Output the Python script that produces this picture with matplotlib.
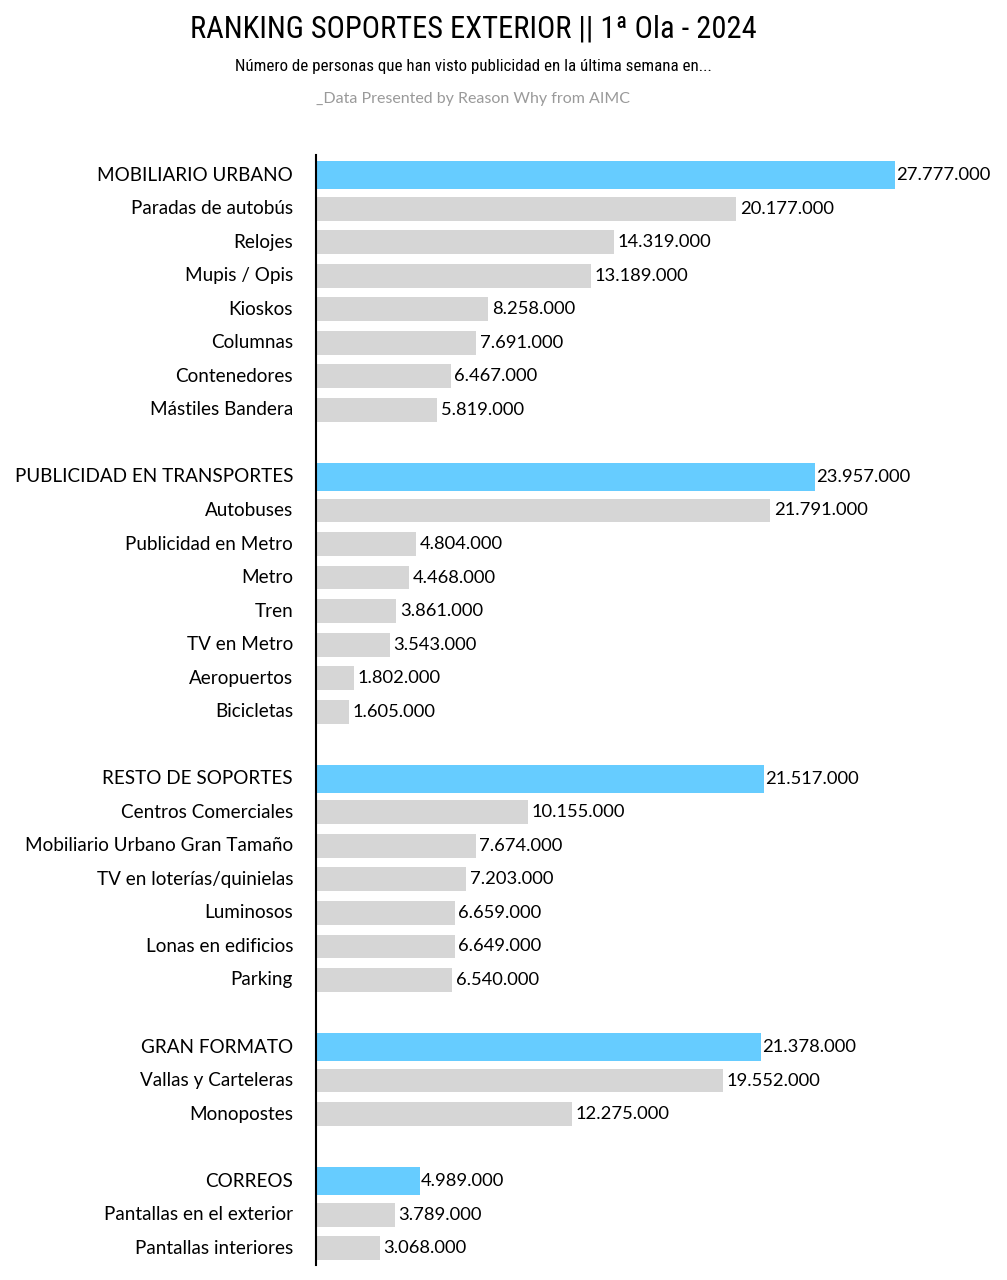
import matplotlib
matplotlib.use("Agg")
import matplotlib.pyplot as plt
from matplotlib import font_manager

groups = ["MOBILIARIO URBANO", "PUBLICIDAD EN TRANSPORTES", "RESTO DE SOPORTES",
          "GRAN FORMATO", "CORREOS"]
group_values = [27777000, 23957000, 21517000, 21378000, 4989000]
items = [
    ["Paradas de autobús", "Relojes", "Mupis / Opis", "Kioskos", "Columnas",
     "Contenedores", "Mástiles Bandera"],
    ["Autobuses", "Publicidad en Metro", "Metro", "Tren", "TV en Metro",
     "Aeropuertos", "Bicicletas"],
    ["Centros Comerciales", "Mobiliario Urbano Gran Tamaño", "TV en loterías/quinielas",
     "Luminosos", "Lonas en edificios", "Parking"],
    ["Vallas y Carteleras", "Monopostes"],
    ["Pantallas en el exterior", "Pantallas interiores"],
]
item_values = [
    [20177000, 14319000, 13189000, 8258000, 7691000, 6467000, 5819000],
    [21791000, 4804000, 4468000, 3861000, 3543000, 1802000, 1605000],
    [10155000, 7674000, 7203000, 6659000, 6649000, 6540000],
    [19552000, 12275000],
    [3789000, 3068000],
]

title = "RANKING SOPORTES EXTERIOR || 1ª Ola - 2024"
subtitle = "Número de personas que han visto publicidad en la última semana en..."
source = "_Data Presented by Reason Why from AIMC"

names = {f.name for f in font_manager.fontManager.ttflist}
cond = None
for cand in ["Liberation Sans Narrow", "DejaVu Sans Condensed", "Roboto Condensed",
             "Open Sans Condensed"]:
    if cand in names:
        cond = cand
        break
label_font = "Lato" if "Lato" in names else "DejaVu Sans"

BLUE = "#66CCFF"
GRAY = "#D6D6D6"

fig = plt.figure(figsize=(10.07, 12.8), dpi=100)
W, H = 1007, 1280
ax_left, ax_top, ax_bottom = 316, 155, 1265
ax = fig.add_axes([ax_left / W, 1 - ax_bottom / H, (W - ax_left) / W, (ax_bottom - ax_top) / H])

pos = 0
for g, gv, its, ivs in zip(groups, group_values, items, item_values):
    ax.barh(pos, gv, height=0.84, color=BLUE, zorder=2)
    ax.text(gv + 50000, pos, f"{gv:,}".replace(",", "."), va="center", ha="left",
            fontsize=13.2, family=label_font)
    ax.text(-1100000, pos, g, va="center", ha="right", fontsize=13.6,
            family=label_font)
    pos += 1
    for it, iv in zip(its, ivs):
        ax.barh(pos, iv, height=0.71, color=GRAY, zorder=2)
        ax.text(iv + 170000, pos, f"{iv:,}".replace(",", "."), va="center", ha="left",
                fontsize=13.2, family=label_font)
        ax.text(-1100000, pos, it, va="center", ha="right", fontsize=13.6,
                family=label_font)
        pos += 1
    pos += 1

ax.set_xlim(0, 33.16e6)
ax.set_ylim(32.5, -0.6)
for s in ["top", "right", "bottom"]:
    ax.spines[s].set_visible(False)
ax.spines["left"].set_linewidth(1.5)
ax.spines["left"].set_color("black")
ax.set_xticks([])
ax.set_yticks([])

cx = 473 / W
tfam = [cond, "DejaVu Sans"] if cond else ["DejaVu Sans"]
fig.text(cx, 1 - 29 / H, title, ha="center", va="center", fontsize=22,
         family=tfam, stretch="condensed")
fig.text(cx, 1 - 66 / H, subtitle, ha="center", va="center", fontsize=12.2,
         family=tfam, stretch="condensed")
fig.text(cx, 1 - 99 / H, source, ha="center", va="center", fontsize=11.5,
         family=label_font, color="#9A9A9A")

fig.savefig("out.png", dpi=100)
